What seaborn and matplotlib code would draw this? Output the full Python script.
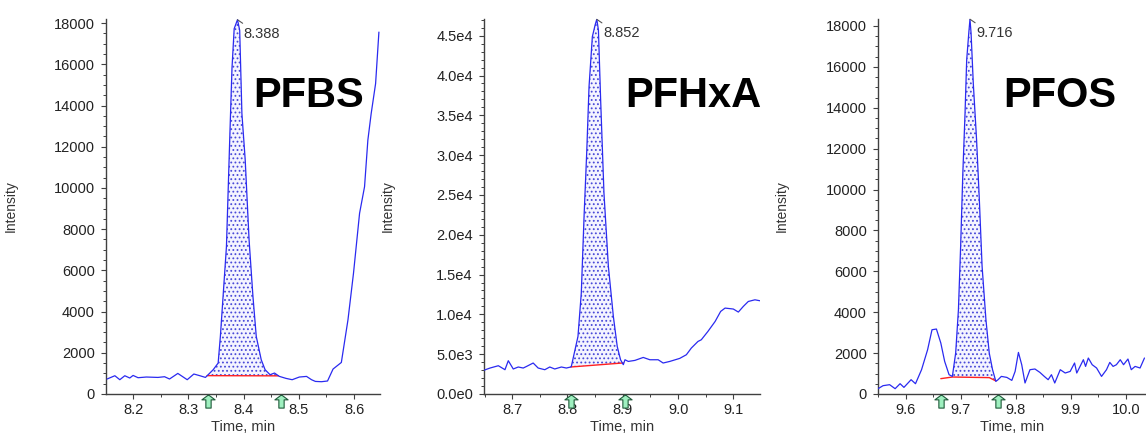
import numpy as np
import matplotlib
matplotlib.use('Agg')
import matplotlib.pyplot as plt
from matplotlib.path import Path
from matplotlib.ticker import MultipleLocator, FuncFormatter
import seaborn as sns

# ── chromatogram traces ──
pfbs_time = [8.153, 8.167, 8.176, 8.185, 8.194, 8.200, 8.209, 8.224, 8.245, 8.257,
             8.266, 8.281, 8.298, 8.310, 8.321, 8.331, 8.334, 8.345, 8.354, 8.358,
             8.369, 8.375, 8.379, 8.383, 8.389, 8.393, 8.397, 8.403, 8.410, 8.417,
             8.423, 8.432, 8.439, 8.448, 8.456, 8.463, 8.465, 8.477, 8.488, 8.501,
             8.514, 8.523, 8.530, 8.541, 8.552, 8.562, 8.577, 8.589, 8.599, 8.610,
             8.619, 8.625, 8.631, 8.639, 8.645]
pfbs_int = [727, 886, 693, 886, 775, 901, 790, 823, 804, 838,
            727, 998, 693, 969, 886, 804, 886, 1177, 1502, 2790,
            7150, 12400, 15790, 17730, 18165, 17650, 13610, 11350, 7475, 4730,
            2790, 1660, 1177, 935, 1017, 886, 853, 756, 693, 823,
            853, 693, 610, 596, 630, 1211, 1530, 3600, 5860, 8770,
            10060, 12320, 13610, 15065, 17565]

pfhxa_time = [8.648, 8.660, 8.675, 8.687, 8.693, 8.702, 8.711, 8.720, 8.726, 8.738,
              8.747, 8.759, 8.768, 8.777, 8.789, 8.798, 8.806, 8.807, 8.819, 8.825,
              8.830, 8.835, 8.839, 8.845, 8.850, 8.853, 8.856, 8.860, 8.866, 8.874,
              8.883, 8.890, 8.896, 8.901, 8.904, 8.910, 8.922, 8.937, 8.949, 8.964,
              8.973, 8.985, 9.003, 9.015, 9.024, 9.036, 9.042, 9.054, 9.067, 9.077,
              9.085, 9.100, 9.109, 9.118, 9.127, 9.139, 9.148]
pfhxa_int = [2960, 3260, 3550, 3050, 4180, 3140, 3390, 3260, 3460, 3890,
             3260, 3050, 3390, 3140, 3390, 3260, 3390, 3460, 7230, 12680,
             22290, 30660, 38600, 44880, 46350, 47060, 45720, 36930, 25230, 16010,
             9740, 5970, 4300, 3680, 4300, 4090, 4220, 4590, 4300, 4300,
             3890, 4090, 4470, 4930, 5770, 6600, 6810, 7860, 9110, 10370,
             10790, 10670, 10290, 11000, 11620, 11830, 11710]

pfos_time = [9.550, 9.559, 9.571, 9.581, 9.590, 9.597, 9.610, 9.618, 9.629, 9.640,
             9.648, 9.656, 9.664, 9.671, 9.679, 9.685, 9.691, 9.696, 9.700, 9.704,
             9.708, 9.711, 9.715, 9.717, 9.719, 9.723, 9.729, 9.734, 9.739, 9.746,
             9.752, 9.758, 9.764, 9.768, 9.774, 9.784, 9.793, 9.799, 9.805, 9.811,
             9.817, 9.826, 9.835, 9.844, 9.852, 9.859, 9.865, 9.871, 9.881, 9.890,
             9.899, 9.907, 9.911, 9.917, 9.923, 9.927, 9.932, 9.939, 9.947, 9.956,
             9.965, 9.971, 9.977, 9.983, 9.990, 9.996, 10.004, 10.010, 10.017, 10.026,
             10.034]
pfos_int = [259, 406, 455, 259, 503, 323, 699, 503, 1188, 2165,
            3142, 3177, 2492, 1593, 943, 860, 2004, 4120, 7213, 10800,
            13730, 16340, 17720, 18330, 17640, 15200, 12430, 9500, 6240, 3630,
            2004, 1188, 616, 699, 860, 811, 665, 1104, 2033, 1432,
            538, 1188, 1222, 1056, 860, 699, 943, 538, 1188, 1026,
            1104, 1515, 1026, 1349, 1676, 1349, 1759, 1432, 1271, 860,
            1188, 1544, 1349, 1432, 1676, 1432, 1710, 1188, 1349, 1271,
            1759]

# integration baselines (red) and peak-window markers
pfbs_base_t, pfbs_base_i = [8.334, 8.463], [890, 880]
pfhxa_base_t, pfhxa_base_i = [8.806, 8.901], [3390, 3900]
pfos_base_t, pfos_base_i = [9.664, 9.685, 9.752, 9.764], [750, 830, 800, 640]

pfbs_window = [8.334, 8.463]
pfhxa_window = [8.806, 8.901]
pfos_window = [9.685, 9.764]

pfbs_arrows = [8.335, 8.467]
pfhxa_arrows = [8.806, 8.904]
pfos_arrows = [9.665, 9.767]

names = ['PFBS', 'PFHxA', 'PFOS']
apex_labels = ['8.388', '8.852', '9.716']
xlims = [(8.151, 8.647), (8.649, 9.148), (9.550, 10.037)]
ylims = [(0, 18200), (0, 47100), (0, 18340)]

traces = [(pfbs_time, pfbs_int), (pfhxa_time, pfhxa_int), (pfos_time, pfos_int)]
baselines = [(pfbs_base_t, pfbs_base_i), (pfhxa_base_t, pfhxa_base_i), (pfos_base_t, pfos_base_i)]
windows = [pfbs_window, pfhxa_window, pfos_window]
arrows = [pfbs_arrows, pfhxa_arrows, pfos_arrows]

# ── style ──
sns.set_theme(style='ticks')
plt.rcParams['font.family'] = ['Liberation Sans', 'DejaVu Sans']
plt.rcParams['hatch.linewidth'] = 0.8

BLUE = '#2a2af0'
AXC = '#404040'

# block arrow marker (the little green "integration" arrows)
arrow_path = Path([(0, 1), (1, 0.25), (0.4, 0.25), (0.4, -1), (-0.4, -1),
                   (-0.4, 0.25), (-1, 0.25), (0, 1)])


def sci_fmt(v, pos):
    if v == 0:
        return '0.0e0'
    e = int(np.floor(np.log10(abs(v))))
    return f'{v / 10**e:.1f}e{e}'


fig = plt.figure(figsize=(11.46, 4.34), dpi=100)
lefts = [0.0925, 0.4223, 0.7662]
widths = [0.2391, 0.2408, 0.2339]
ylab_x = [-0.321, -0.322, -0.332]
name_x = [0.536, 0.511, 0.466]

for k in range(3):
    ax = fig.add_axes([lefts[k], 0.0922, widths[k], 0.864])
    t, y = np.array(traces[k][0]), np.array(traces[k][1])
    bt, bi = np.array(baselines[k][0]), np.array(baselines[k][1])
    lo, hi = windows[k]

    # shaded (dotted) peak area between trace and baseline
    m = (t >= lo) & (t <= hi)
    mb = (bt >= lo) & (bt <= hi)
    px = np.concatenate([t[m], bt[mb][::-1]])
    py = np.concatenate([y[m], bi[mb][::-1]])
    ax.fill(px, py, facecolor='#f4f4ff', edgecolor='#4a4ad8', hatch='....', lw=0, zorder=1)

    sns.lineplot(x=bt, y=bi, ax=ax, color='#ff2020', lw=1.0, sort=False, estimator=None, zorder=2)
    sns.lineplot(x=t, y=y, ax=ax, color=BLUE, lw=0.9, sort=False, estimator=None, zorder=3)

    # apex label
    ip = int(np.argmax(y))
    ax.annotate(apex_labels[k], xy=(t[ip], y[ip]), xytext=(4.5, -15), textcoords='offset points',
                fontsize=10.5, color='#333333', ha='left', va='bottom',
                arrowprops=dict(arrowstyle='-', color='#555555', lw=0.8,
                                relpos=(0.1, 1.0), shrinkA=0, shrinkB=0))

    # integration markers below the axis
    ax.plot(arrows[k], [-0.019] * len(arrows[k]), linestyle='none', marker=arrow_path,
            markersize=9.5, markerfacecolor='#9ff0c0', markeredgecolor='#205a3a',
            markeredgewidth=0.8, transform=ax.get_xaxis_transform(), clip_on=False, zorder=5)

    ax.text(name_x[k], 0.766, names[k], transform=ax.transAxes, fontsize=30,
            fontweight='bold', color='black', ha='left', va='baseline')

    ax.set_xlim(*xlims[k])
    ax.set_ylim(*ylims[k])
    ax.xaxis.set_major_locator(MultipleLocator(0.1))
    ax.xaxis.set_minor_locator(MultipleLocator(0.05))
    ax.xaxis.set_major_formatter(FuncFormatter(lambda v, p: f'{v:.1f}'))
    if k == 1:
        ax.yaxis.set_major_locator(MultipleLocator(5000))
        ax.yaxis.set_minor_locator(MultipleLocator(1000))
        ax.yaxis.set_major_formatter(FuncFormatter(sci_fmt))
    else:
        ax.yaxis.set_major_locator(MultipleLocator(2000))
        ax.yaxis.set_minor_locator(MultipleLocator(500))
        ax.yaxis.set_major_formatter(FuncFormatter(lambda v, p: f'{int(v)}'))

    for s in ['top', 'right']:
        ax.spines[s].set_visible(False)
    for s in ['left', 'bottom']:
        ax.spines[s].set_color(AXC)
        ax.spines[s].set_linewidth(1.0)
    ax.tick_params(which='major', length=3.5, width=0.8, color=AXC, labelsize=10.5,
                   labelcolor='#222222', direction='out', pad=3)
    ax.tick_params(which='minor', length=2, width=0.7, color=AXC, direction='out')
    ax.tick_params(axis='y', which='major', pad=4.5)

    ax.set_xlabel('Time, min', fontsize=10.5, color='#333333')
    ax.set_ylabel('Intensity', fontsize=10, color='#333333')
    ax.xaxis.set_label_coords(0.5, -0.07)
    ax.yaxis.set_label_coords(ylab_x[k], 0.5)
    ax.set_facecolor('white')

fig.savefig('out.png', dpi=100, facecolor='white')
